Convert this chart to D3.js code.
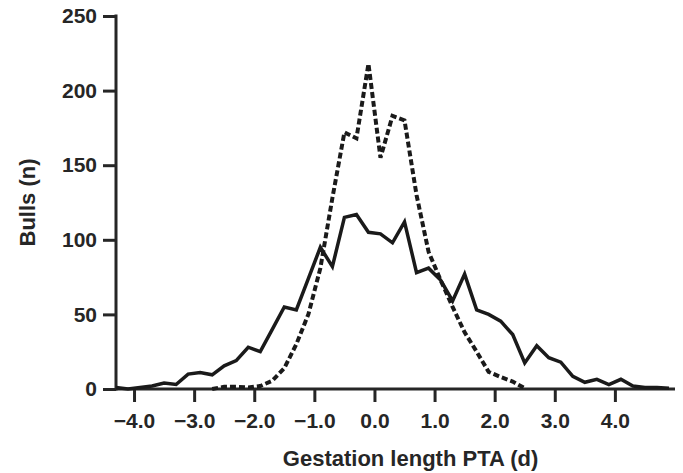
<!DOCTYPE html>
<html>
<head>
<meta charset="utf-8">
<script src="https://cdn.jsdelivr.net/npm/d3@7"></script>
<style>
  body { margin: 0; background: #fff; }
  text { font-family: "Liberation Sans", Arial, sans-serif; font-weight: bold; fill: #262626; }
</style>
</head>
<body>
<script>
// gestation length PTA bin centres (d)
var allX = [-4.3,-4.1,-3.9,-3.7,-3.5,-3.3,-3.1,-2.9,-2.7,-2.5,-2.3,-2.1,-1.9,-1.7,-1.5,-1.3,-1.1,-0.9,-0.7,-0.5,
            -0.3,-0.1,0.1,0.3,0.5,0.7,0.9,1.1,1.3,1.5,1.7,1.9,2.1,2.3,2.5,2.7,2.9,3.1,3.3,3.5,
            3.7,3.9,4.1,4.3,4.5,4.7,4.9];
// solid line: number of bulls per bin
var solidN = [1,0,1,2,4,3,10,11,9.5,15.5,19,28,25,40,55,53,74,95,82,115,
              117,105,104,98,112,78,81,73,59,77,53,50,45.5,36.5,17.5,29,21,18,8.5,4.5,
              6.5,3,6.5,2,1,1,0.5];
// dashed line covers a narrower range
var dashX = [-2.7,-2.5,-2.3,-2.1,-1.9,-1.7,-1.5,-1.3,-1.1,-0.9,-0.7,-0.5,-0.3,-0.1,0.1,0.3,0.5,0.7,0.9,1.1,
             1.3,1.5,1.7,1.9,2.1,2.3,2.5];
var dashN = [0,1.5,1.5,1,2,5.5,14,30,50,81,128,172,168,218,155,183,180,130,92,73,
             55,38,25,11.5,8,5,0.5];
var xTicks = [-4,-3,-2,-1,0,1,2,3,4];
var yTicks = [0,50,100,150,200,250];

var width = 683, height = 473;

var x = d3.scaleLinear().domain([-4.3, 5.0]).range([116, 675]);
var y = d3.scaleLinear().domain([0, 250]).range([389, 16]);

var svg = d3.select("body").append("svg")
    .attr("width", width)
    .attr("height", height);

var fmt = function(d) { return d3.format(".1f")(d).replace("-", "\u2013"); };

svg.append("g")
    .attr("transform", "translate(0," + y(0) + ")")
    .call(d3.axisBottom(x).tickValues(xTicks).tickSize(13).tickPadding(11).tickFormat(fmt));

svg.append("g")
    .attr("transform", "translate(" + x(-4.3) + ",0)")
    .call(d3.axisLeft(y).tickValues(yTicks).tickSize(13).tickPadding(6));

svg.selectAll(".domain").remove();
svg.selectAll(".tick line").attr("stroke", "#262626").attr("stroke-width", 3);
svg.selectAll(".tick text").style("font-size", "21px").attr("fill", "#262626");

// axis lines
svg.append("line")
    .attr("x1", x(-4.3)).attr("x2", x(5.0))
    .attr("y1", y(0)).attr("y2", y(0))
    .attr("stroke", "#262626").attr("stroke-width", 3);
svg.append("line")
    .attr("x1", x(-4.3)).attr("x2", x(-4.3))
    .attr("y1", y(250) - 1.5).attr("y2", y(0) + 1.5)
    .attr("stroke", "#262626").attr("stroke-width", 3);

var line = d3.line()
    .x(function(d) { return x(d[0]); })
    .y(function(d) { return y(d[1]); });

svg.append("path")
    .datum(d3.zip(dashX, dashN))
    .attr("d", line)
    .attr("fill", "none")
    .attr("stroke", "#1a1a1a")
    .attr("stroke-width", 4)
    .attr("stroke-dasharray", "6,3")
    .attr("stroke-linejoin", "miter");

svg.append("path")
    .datum(d3.zip(allX, solidN))
    .attr("d", line)
    .attr("fill", "none")
    .attr("stroke", "#1a1a1a")
    .attr("stroke-width", 3.5)
    .attr("stroke-linejoin", "miter");

svg.append("text")
    .attr("x", x(0.6))
    .attr("y", 466)
    .attr("text-anchor", "middle")
    .style("font-size", "22px")
    .text("Gestation length PTA (d)");

svg.append("text")
    .attr("transform", "translate(35," + y(125) + ") rotate(-90)")
    .attr("text-anchor", "middle")
    .style("font-size", "22px")
    .text("Bulls (n)");
</script>
</body>
</html>
